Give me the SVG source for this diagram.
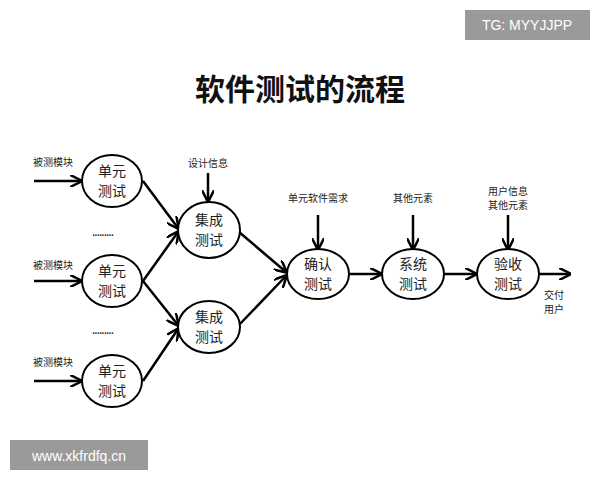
<svg xmlns="http://www.w3.org/2000/svg" width="600" height="480" viewBox="0 0 600 480">
<defs><marker id="a" viewBox="0 0 10 10" refX="9" refY="5" markerWidth="5" markerHeight="5" orient="auto"><path d="M0,0 L10,5 L0,10" fill="none" stroke="#000" stroke-width="2"/></marker></defs>
<style>
text{font-family:"Noto Sans CJK SC","Liberation Sans",sans-serif;fill:#222}
.n{font-size:14px;text-anchor:middle}
.l{font-size:10px}
.c{text-anchor:middle}
ellipse{fill:#fff;stroke:#000;stroke-width:2}
#conn line{stroke:#000;stroke-width:2.5;marker-end:url(#a)}
</style>
<rect width="600" height="480" fill="#fff"/>
<rect x="465" y="10" width="125" height="30" fill="#9a9a9a"/>
<text x="527" y="30" class="c" style="font-size:14px;fill:#fff;font-family:'Liberation Sans',sans-serif">TG: MYYJJPP</text>
<rect x="10" y="440" width="138" height="30" fill="#9a9a9a"/>
<text x="79" y="461" class="c" style="font-size:14px;fill:#fff;font-family:'Liberation Sans',sans-serif">www.xkfrdfq.cn</text>
<text x="300" y="100" class="c" style="font-size:30px;font-weight:bold;fill:#111">软件测试的流程</text>
<g id="conn">
<line x1="34" y1="181" x2="81" y2="181"/><line x1="34" y1="281" x2="81" y2="281"/><line x1="34" y1="381" x2="81" y2="381"/>
<line x1="143" y1="181" x2="178" y2="228"/><line x1="143" y1="281" x2="178" y2="232"/>
<line x1="143" y1="281" x2="178" y2="325"/><line x1="143" y1="381" x2="178" y2="329"/>
<line x1="239" y1="232" x2="286" y2="272"/><line x1="239" y1="325" x2="286" y2="276"/>
<line x1="349" y1="274" x2="381" y2="274"/><line x1="444" y1="274" x2="476" y2="274"/><line x1="539" y1="274" x2="570" y2="274"/>
<line x1="208" y1="173" x2="208" y2="201"/>
<line x1="318" y1="215" x2="318" y2="249"/><line x1="413" y1="215" x2="413" y2="249"/><line x1="508" y1="215" x2="508" y2="249"/>
</g>
<text x="33" y="166" class="l">被测模块</text><text x="33" y="269" class="l">被测模块</text><text x="33" y="366" class="l">被测模块</text>
<text x="92" y="236" style="font-size:12px;letter-spacing:-1px">.........</text>
<text x="92" y="334" style="font-size:12px;letter-spacing:-1px">.........</text>
<text x="208" y="167" class="l c">设计信息</text>
<text x="318" y="202" class="l c">单元软件需求</text>
<text x="413" y="202" class="l c">其他元素</text>
<text x="508" y="195" class="l c">用户信息</text><text x="508" y="209" class="l c">其他元素</text>
<text x="554" y="299" class="l c">交付</text><text x="554" y="313" class="l c">用户</text>
<g id="u1"><ellipse cx="112" cy="181" rx="30" ry="26"/><text x="112" y="176" class="n">单元</text><text x="112" y="196" class="n">测试</text></g>
<g id="u2"><ellipse cx="112" cy="281" rx="30" ry="26"/><text x="112" y="276" class="n">单元</text><text x="112" y="296" class="n">测试</text></g>
<g id="u3"><ellipse cx="112" cy="381" rx="30" ry="26"/><text x="112" y="376" class="n">单元</text><text x="112" y="396" class="n">测试</text></g>
<g id="i1"><ellipse cx="209" cy="230" rx="31" ry="28"/><text x="209" y="225" class="n">集成</text><text x="209" y="245" class="n">测试</text></g>
<g id="i2"><ellipse cx="209" cy="327" rx="31" ry="26"/><text x="209" y="322" class="n">集成</text><text x="209" y="342" class="n">测试</text></g>
<g id="c"><ellipse cx="318" cy="274" rx="31" ry="25"/><text x="318" y="269" class="n">确认</text><text x="318" y="289" class="n">测试</text></g>
<g id="s"><ellipse cx="413" cy="274" rx="31" ry="25"/><text x="413" y="269" class="n">系统</text><text x="413" y="289" class="n">测试</text></g>
<g id="y"><ellipse cx="508" cy="274" rx="31" ry="25"/><text x="508" y="269" class="n">验收</text><text x="508" y="289" class="n">测试</text></g>
</svg>
